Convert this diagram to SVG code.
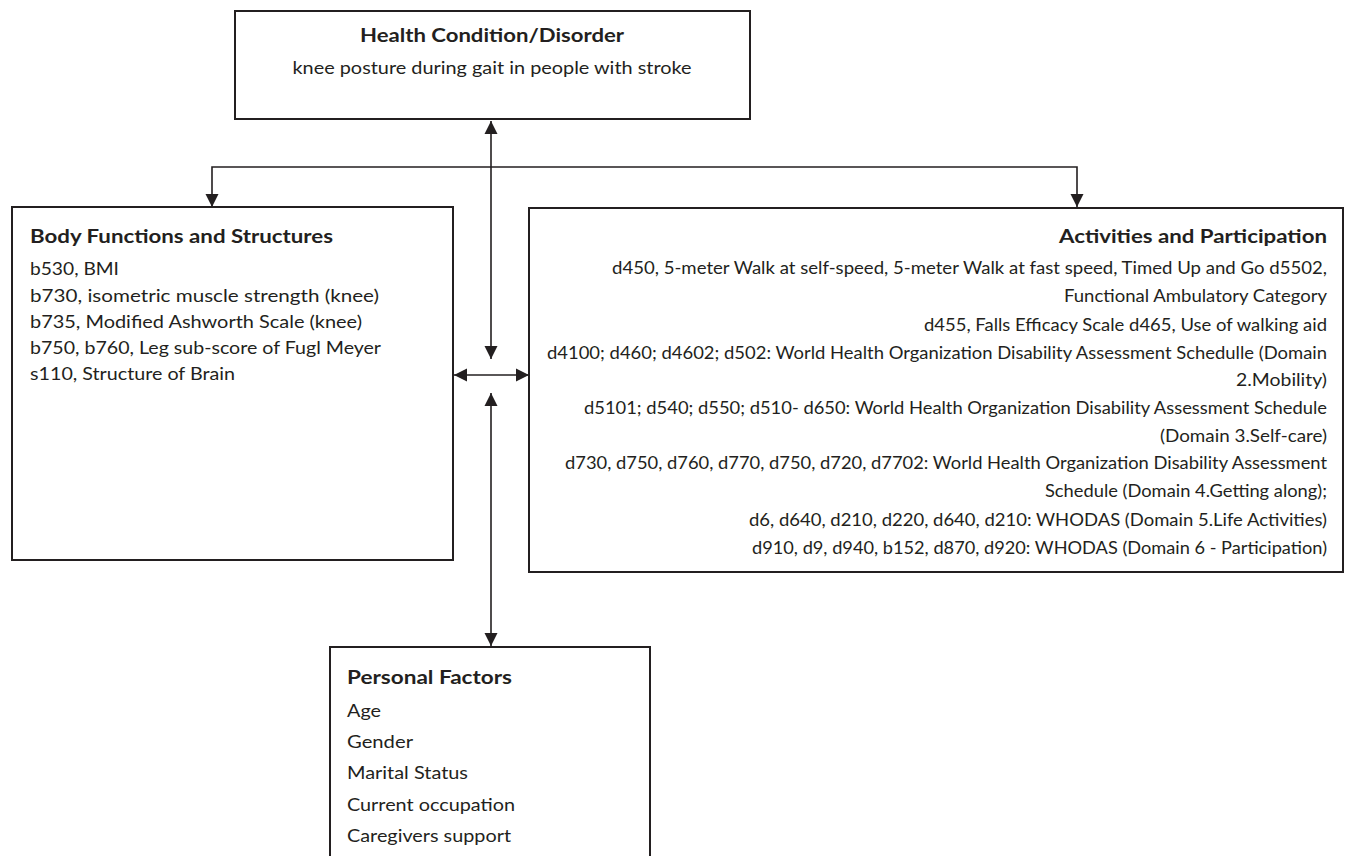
<svg xmlns="http://www.w3.org/2000/svg" width="1347" height="856" viewBox="0 0 1347 856">
<style>
.box{fill:#fff;stroke:#231f20;stroke-width:2}
.con{fill:none;stroke:#231f20;stroke-width:1.6;marker-start:url(#ah);marker-end:url(#ah)}
text{font-family:Lato,"Open Sans","Liberation Sans",sans-serif;fill:#231f20;font-size:17px}
.t{font-weight:bold;font-size:19px}
.r{text-anchor:end}
.c{text-anchor:middle}
</style>
<defs>
<marker id="ah" markerUnits="userSpaceOnUse" markerWidth="14" markerHeight="14" refX="13" refY="6.5" orient="auto-start-reverse" viewBox="0 0 14 13">
<path d="M0,0 L13,6.5 L0,13 z" fill="#231f20"/>
</marker>
</defs>
<rect width="1347" height="856" fill="#fff"/>
<g id="connectors">
<path class="con" d="M491,121 V359"/>
<path class="con" d="M212,207 V167 H1077 V207"/>
<path class="con" d="M454,375 H529"/>
<path class="con" d="M491,393 V646"/>
</g>
<g id="health">
<rect class="box" x="235" y="11" width="515" height="108"/>
<text class="t c" x="492" y="42" textLength="264" lengthAdjust="spacingAndGlyphs">Health Condition/Disorder</text>
<text class="c" x="492" y="74" textLength="399" lengthAdjust="spacingAndGlyphs">knee posture during gait in people with stroke</text>
</g>
<g id="body">
<rect class="box" x="12" y="207" width="441" height="353"/>
<text class="t" x="30" y="243" textLength="303" lengthAdjust="spacingAndGlyphs">Body Functions and Structures</text>
<text x="30" y="275" textLength="89" lengthAdjust="spacingAndGlyphs">b530, BMI</text>
<text x="30" y="302" textLength="349" lengthAdjust="spacingAndGlyphs">b730, isometric muscle strength (knee)</text>
<text x="30" y="328" textLength="332" lengthAdjust="spacingAndGlyphs">b735, Modified Ashworth Scale (knee)</text>
<text x="30" y="354" textLength="351" lengthAdjust="spacingAndGlyphs">b750, b760, Leg sub-score of Fugl Meyer</text>
<text x="30" y="380" textLength="205" lengthAdjust="spacingAndGlyphs">s110, Structure of Brain</text>
</g>
<g id="activities">
<rect class="box" x="529" y="208" width="814" height="364"/>
<text class="t r" x="1327" y="243" textLength="268" lengthAdjust="spacingAndGlyphs">Activities and Participation</text>
<text class="r" x="1327" y="274" textLength="715" lengthAdjust="spacingAndGlyphs">d450, 5-meter Walk at self-speed, 5-meter Walk at fast speed, Timed Up and Go d5502,</text>
<text class="r" x="1327" y="302" textLength="263" lengthAdjust="spacingAndGlyphs">Functional Ambulatory Category</text>
<text class="r" x="1327" y="331" textLength="403" lengthAdjust="spacingAndGlyphs">d455, Falls Efficacy Scale d465, Use of walking aid</text>
<text class="r" x="1327" y="359" textLength="780" lengthAdjust="spacingAndGlyphs">d4100; d460; d4602; d502: World Health Organization Disability Assessment Schedulle (Domain</text>
<text class="r" x="1327" y="386" textLength="91" lengthAdjust="spacingAndGlyphs">2.Mobility)</text>
<text class="r" x="1327" y="414" textLength="743" lengthAdjust="spacingAndGlyphs">d5101; d540; d550; d510- d650: World Health Organization Disability Assessment Schedule</text>
<text class="r" x="1327" y="442" textLength="167" lengthAdjust="spacingAndGlyphs">(Domain 3.Self-care)</text>
<text class="r" x="1327" y="469" textLength="762" lengthAdjust="spacingAndGlyphs">d730, d750, d760, d770, d750, d720, d7702: World Health Organization Disability Assessment</text>
<text class="r" x="1327" y="497" textLength="282" lengthAdjust="spacingAndGlyphs">Schedule (Domain 4.Getting along);</text>
<text class="r" x="1327" y="526" textLength="578" lengthAdjust="spacingAndGlyphs">d6, d640, d210, d220, d640, d210: WHODAS (Domain 5.Life Activities)</text>
<text class="r" x="1327" y="554" textLength="575" lengthAdjust="spacingAndGlyphs">d910, d9, d940, b152, d870, d920: WHODAS (Domain 6 - Participation)</text>
</g>
<g id="personal">
<rect class="box" x="330" y="647" width="320" height="220"/>
<text class="t" x="347" y="684" textLength="165" lengthAdjust="spacingAndGlyphs">Personal Factors</text>
<text x="347" y="717" textLength="34" lengthAdjust="spacingAndGlyphs">Age</text>
<text x="347" y="748" textLength="66" lengthAdjust="spacingAndGlyphs">Gender</text>
<text x="347" y="779" textLength="121" lengthAdjust="spacingAndGlyphs">Marital Status</text>
<text x="347" y="811" textLength="168" lengthAdjust="spacingAndGlyphs">Current occupation</text>
<text x="347" y="842" textLength="164" lengthAdjust="spacingAndGlyphs">Caregivers support</text>
</g>
</svg>
